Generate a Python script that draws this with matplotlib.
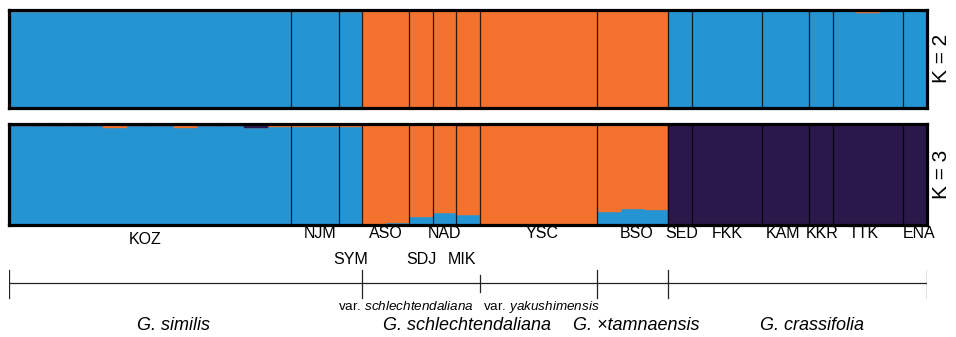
import numpy as np
import matplotlib
matplotlib.use("Agg")
import matplotlib.pyplot as plt

plt.rcParams['font.family'] = ['Liberation Sans', 'DejaVu Sans']
plt.rcParams['mathtext.fontset'] = 'custom'
plt.rcParams['mathtext.it'] = 'Liberation Sans:italic'
plt.rcParams['mathtext.rm'] = 'Liberation Sans'

# populations and number of individuals in each
pops = ['KOZ', 'NJM', 'SYM', 'ASO', 'SDJ', 'NAD', 'MIK', 'YSC', 'BSO',
        'SED', 'FKK', 'KAM', 'KKR', 'TTK', 'ENA']
sizes = [12, 2, 1, 2, 1, 1, 1, 5, 3, 1, 3, 2, 1, 3, 1]

# K = 2 : orange share of each individual (rest is blue)
k2_orange = ([0.03] * 12 + [0.025, 0.025] + [0.025] + [1.0, 1.0] + [1.0] + [1.0] + [0.985]
             + [1.0] * 5 + [1.0] * 3 + [0.0] + [0.0] * 3 + [0.0] * 2 + [0.0]
             + [0.0, 0.035, 0.0] + [0.0])

# K = 3 : blue and orange shares (rest is purple)
k3_blue = ([0.985, 0.985, 0.985, 0.985, 0.96, 0.985, 0.985, 0.96, 0.985, 0.985, 0.96, 0.97]
           + [0.975, 0.975] + [0.975] + [0.0, 0.015] + [0.075] + [0.11] + [0.095]
           + [0.0] * 5 + [0.12, 0.15, 0.14] + [0.0] * 11)
k3_orange = ([0.0, 0.0, 0.0, 0.0, 0.03, 0.0, 0.0, 0.03, 0.0, 0.0, 0.0, 0.025]
             + [0.015, 0.015] + [0.015] + [1.0, 0.985] + [0.925] + [0.89] + [0.89]
             + [1.0] * 5 + [0.88, 0.85, 0.86] + [0.0] * 11)

species = ['G. similis', 'G. schlechtendaliana', 'G. ×tamnaensis', 'G. crassifolia']

blue = '#2494d3'
orange = '#f2722e'
purple = '#2a184b'

n = sum(sizes)
x = np.arange(n) + 0.5
bounds = np.cumsum(sizes)
centers = bounds - np.array(sizes) / 2

fig = plt.figure(figsize=(9.56, 3.37), dpi=100)
L, W = 9 / 956, 918 / 956

ax1 = fig.add_axes([L, 0.6795, W, 0.2923])
ax2 = fig.add_axes([L, 0.3338, W, 0.2982])

k2_orange = np.array(k2_orange)
k3_blue = np.array(k3_blue)
k3_orange = np.array(k3_orange)
k3_purple = 1 - k3_blue - k3_orange

ax1.bar(x, 1 - k2_orange, width=1, color=blue, edgecolor=blue, lw=0.3)
ax1.bar(x, k2_orange, bottom=1 - k2_orange, width=1, color=orange, edgecolor=orange, lw=0.3)

ax2.bar(x, k3_blue, width=1, color=blue, edgecolor=blue, lw=0.3)
ax2.bar(x, k3_orange, bottom=k3_blue, width=1, color=orange, edgecolor=orange, lw=0.3)
ax2.bar(x, k3_purple, bottom=k3_blue + k3_orange, width=1, color=purple, edgecolor=purple, lw=0.3)

for ax, lab in [(ax1, 'K = 2'), (ax2, 'K = 3')]:
    ax.set_xlim(0, n)
    ax.set_ylim(0, 1)
    for b in bounds[:-1]:
        ax.axvline(b, color='black', alpha=0.8, lw=0.9)
    for s in ax.spines.values():
        s.set_linewidth(2.3)
    ax.set_xticks([])
    ax.set_yticks([])
    ax.text(1.016, 0.5, lab, transform=ax.transAxes, rotation=90,
            ha='center', va='center', fontsize=15)

# labels and species bracket below, y in pixels from top
ax3 = fig.add_axes([L, 0, W, 1])
ax3.set_xlim(0, n)
ax3.set_ylim(337, 0)
ax3.axis('off')

row2 = ['SYM', 'SDJ', 'MIK']
nudge = {'KOZ': -0.2, 'NJM': 0.2, 'MIK': -0.25, 'YSC': 0.14, 'BSO': 0.18,
         'SED': 0.1, 'KAM': -0.12, 'KKR': 0.05, 'TTK': -0.18, 'ENA': 0.15}
for p, c in zip(pops, centers):
    if p in row2:
        y = 260
    elif p == 'KOZ':
        y = 240
    else:
        y = 234
    ax3.text(c + nudge.get(p, 0), y, p, ha='center', va='center', fontsize=11.5)

ax3.plot([-0.05, n], [283, 283], color='#222222', lw=0.9)
for b in [0, 15, 25, 28, n]:
    ax3.plot([b, b], [270, 298], color='#222222', lw=0.9)
ax3.plot([20, 20], [275, 292], color='#222222', lw=0.9)

ax3.text(19.76, 307, r'var. $\mathit{schlechtendaliana}$', ha='right', va='center', fontsize=9.7)
ax3.text(20.14, 307, r'var. $\mathit{yakushimensis}$', ha='left', va='center', fontsize=9.7)

for s, c in zip(species, [7.0, 19.46, 26.64, 34.11]):
    ax3.text(c, 326, s, ha='center', va='center', fontsize=13, style='italic')

fig.savefig('out.png', dpi=100)
